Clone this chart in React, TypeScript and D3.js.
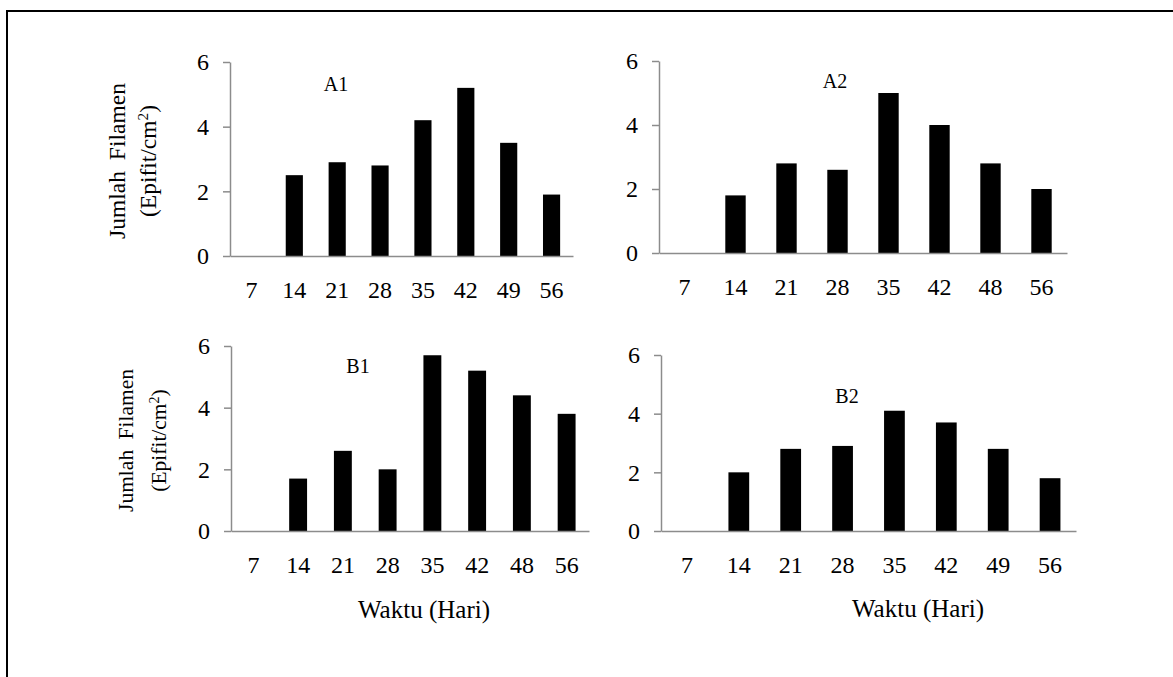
import * as d3 from "d3";
import { useEffect, useRef } from "react";

// days on the x axis for each panel
const daysA1 = ["7", "14", "21", "28", "35", "42", "49", "56"];
const daysA2 = ["7", "14", "21", "28", "35", "42", "48", "56"];
const daysB1 = ["7", "14", "21", "28", "35", "42", "48", "56"];
const daysB2 = ["7", "14", "21", "28", "35", "42", "49", "56"];

// Jumlah filamen (epifit/cm2)
const valuesA1 = [0, 2.5, 2.9, 2.8, 4.2, 5.2, 3.5, 1.9];
const valuesA2 = [0, 1.8, 2.8, 2.6, 5.0, 4.0, 2.8, 2.0];
const valuesB1 = [0, 1.7, 2.6, 2.0, 5.7, 5.2, 4.4, 3.8];
const valuesB2 = [0, 2.0, 2.8, 2.9, 4.1, 3.7, 2.8, 1.8];

const yTicks = [0, 2, 4, 6];
const panelNames = ["A1", "A2", "B1", "B2"];

const FONT = "'Liberation Serif', 'Times New Roman', serif";

const App = () => {
  const svgRef = useRef<SVGSVGElement>(null);

  useEffect(() => {
    const W = 1173;
    const H = 677;
    const svg = d3.select(svgRef.current).attr("width", W).attr("height", H);
    svg.selectAll("*").remove();

    // outer frame (only left and top visible)
    svg.append("line").attr("x1", 7).attr("x2", 7).attr("y1", 10).attr("y2", H).attr("stroke", "#000").attr("stroke-width", 2);
    svg.append("line").attr("x1", 6).attr("x2", W).attr("y1", 11).attr("y2", 11).attr("stroke", "#000").attr("stroke-width", 2);

    // layout of each small chart
    const panels = [
      { name: panelNames[0], days: daysA1, vals: valuesA1, x0: 230, x1: 573, top: 62, bottom: 256, lx: 336, ly: 91, title: true, tfs: 23.5, t1: 117, t2: 148, xlabel: false, wx: 0, wy: 0 },
      { name: panelNames[1], days: daysA2, vals: valuesA2, x0: 659, x1: 1067, top: 61, bottom: 253, lx: 835, ly: 88, title: false, tfs: 0, t1: 0, t2: 0, xlabel: false, wx: 0, wy: 0 },
      { name: panelNames[2], days: daysB1, vals: valuesB1, x0: 231, x1: 589, top: 346, bottom: 531, lx: 358, ly: 373, title: true, tfs: 21.5, t1: 125, t2: 158, xlabel: true, wx: 424, wy: 618 },
      { name: panelNames[3], days: daysB2, vals: valuesB2, x0: 661, x1: 1076, top: 355, bottom: 531, lx: 847, ly: 403, title: false, tfs: 0, t1: 0, t2: 0, xlabel: true, wx: 918, wy: 617 },
    ];

    panels.forEach(p => {
      const g = svg.append("g").attr("font-family", FONT);
      const x = d3.scaleBand().domain(p.days).range([p.x0, p.x1]).paddingInner(0.6).paddingOuter(0.3);
      const y = d3.scaleLinear().domain([0, 6]).range([p.bottom, p.top]);

      // bars
      g.selectAll(".bar")
        .data(p.vals)
        .join("rect")
        .attr("x", (v, i) => x(p.days[i]) as number)
        .attr("y", v => y(v))
        .attr("width", x.bandwidth())
        .attr("height", v => y(0) - y(v))
        .attr("fill", "#000");

      // x axis
      const xAxis = d3.axisBottom(x).tickSize(0).tickPadding(25).tickSizeOuter(0);
      const gx = g.append("g").attr("transform", `translate(0,${p.bottom})`).call(xAxis)
        .attr("font-family", FONT).attr("font-size", 24);
      gx.select(".domain").attr("stroke", "#8c8c8c").attr("stroke-width", 1.5);
      gx.selectAll("text").attr("font-family", FONT).attr("font-size", 24).attr("fill", "#000");

      // y axis
      const yAxis = d3.axisLeft(y).tickValues(yTicks).tickFormat(d3.format("d")).tickSize(7).tickPadding(14).tickSizeOuter(0);
      const gy = g.append("g").attr("transform", `translate(${p.x0},0)`).call(yAxis)
        .attr("font-family", FONT).attr("font-size", 24);
      gy.select(".domain").attr("stroke", "#8c8c8c").attr("stroke-width", 1.5);
      gy.selectAll(".tick line").attr("stroke", "#8c8c8c").attr("stroke-width", 1.5);
      gy.selectAll("text").attr("font-family", FONT).attr("font-size", 24).attr("fill", "#000");

      // panel label
      g.append("text").attr("x", p.lx).attr("y", p.ly).attr("text-anchor", "middle")
        .attr("font-family", FONT).attr("font-size", 20).text(p.name);

      if (p.title) {
        const cy = (p.top + p.bottom) / 2 + 2;
        g.append("text").attr("transform", `translate(${p.t1 + p.tfs * 0.35},${cy}) rotate(-90)`)
          .attr("text-anchor", "middle").attr("font-family", FONT).attr("font-size", p.tfs)
          .attr("word-spacing", 5).text("Jumlah Filamen");
        const t2 = g.append("text").attr("transform", `translate(${p.t2 + p.tfs * 0.35},${cy}) rotate(-90)`)
          .attr("text-anchor", "middle").attr("font-family", FONT).attr("font-size", p.tfs);
        t2.append("tspan").text("(Epifit/cm");
        t2.append("tspan").attr("baseline-shift", "super").attr("font-size", p.tfs * 0.65).text("2");
        t2.append("tspan").text(")");
      }

      if (p.xlabel) {
        g.append("text").attr("x", p.wx).attr("y", p.wy).attr("text-anchor", "middle")
          .attr("font-family", FONT).attr("font-size", 25).text("Waktu (Hari)");
      }
    });
  }, []);

  return (
    <svg ref={svgRef} style={{ position: "absolute", left: 0, top: 0, background: "#fff" }}></svg>
  );
};

export default App;
